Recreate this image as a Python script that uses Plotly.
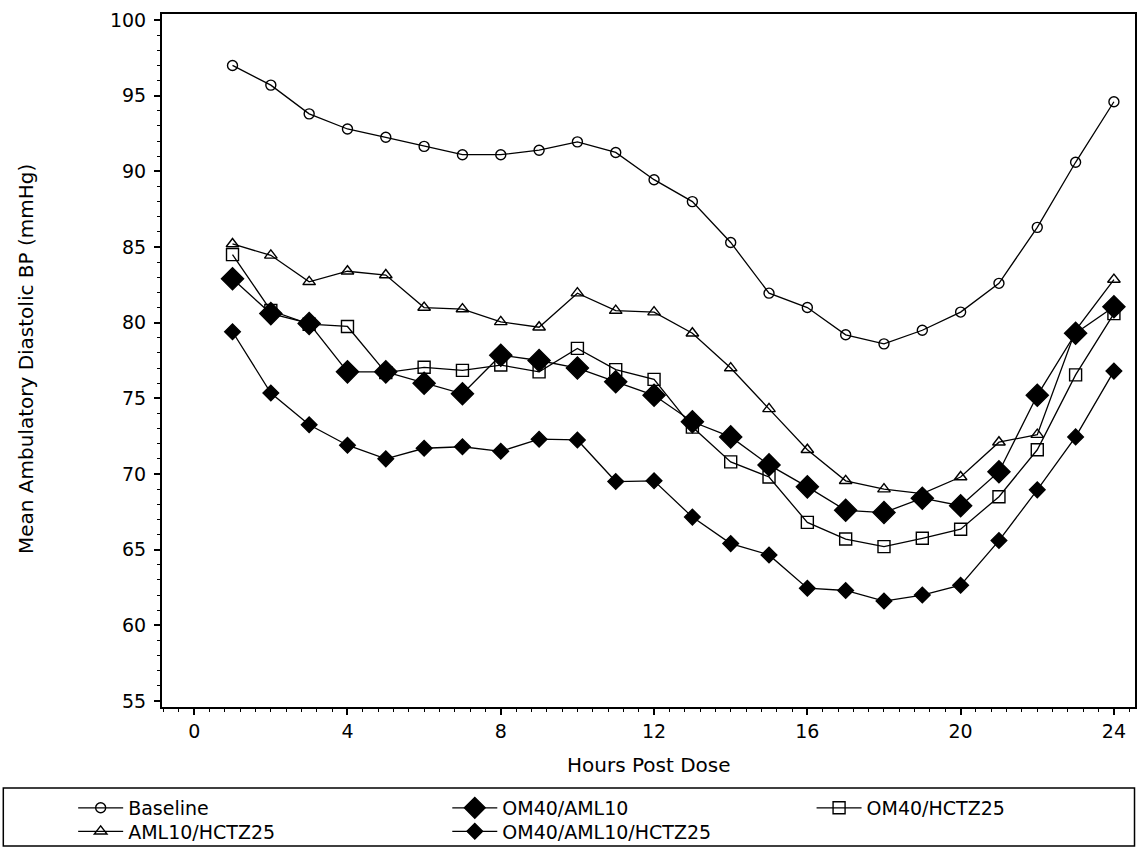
import plotly.graph_objects as go

hours = list(range(1, 25))

baseline = [97.0, 95.7, 93.8, 92.8, 92.25, 91.65, 91.1, 91.1, 91.4, 91.95, 91.25, 89.45,
            88.0, 85.3, 81.95, 81.0, 79.2, 78.6, 79.5, 80.7, 82.6, 86.3, 90.6, 94.6]
om40_aml10 = [82.9, 80.6, 79.95, 76.75, 76.75, 76.0, 75.3, 77.85, 77.5, 77.0, 76.1, 75.2,
              73.45, 72.45, 70.6, 69.15, 67.6, 67.45, 68.4, 67.9, 70.15, 75.2, 79.3, 81.05]
om40_hctz25 = [84.5, 80.8, 79.9, 79.75, 76.7, 77.05, 76.85, 77.2, 76.75, 78.3, 76.9, 76.25,
               73.1, 70.8, 69.8, 66.8, 65.7, 65.2, 65.75, 66.35, 68.5, 71.6, 76.55, 80.6]
aml10_hctz25 = [85.2, 84.45, 82.7, 83.4, 83.15, 81.0, 80.9, 80.05, 79.7, 81.95, 80.8, 80.7,
                79.3, 77.0, 74.3, 71.6, 69.55, 69.0, 68.7, 69.8, 72.1, 72.6, 79.5, 82.85]
om40_aml10_hctz25 = [79.4, 75.35, 73.25, 71.9, 71.0, 71.7, 71.8, 71.5, 72.3, 72.25, 69.5, 69.55,
                     67.15, 65.4, 64.65, 62.45, 62.3, 61.6, 62.0, 62.65, 65.6, 68.95, 72.45, 76.8]

series_names = ["Baseline", "OM40/AML10", "OM40/HCTZ25", "AML10/HCTZ25", "OM40/AML10/HCTZ25"]
series_values = [baseline, om40_aml10, om40_hctz25, aml10_hctz25, om40_aml10_hctz25]
symbols = ["circle-open", "diamond", "square-open", "triangle-up-open", "diamond"]
sizes = [10, 17, 12, 11, 12]
legend_ids = ["legend", "legend2", "legend3", "legend4", "legend5"]

FONT = "DejaVu Sans"

fig = go.Figure()
for name, vals, sym, size, lg in zip(series_names, series_values, symbols, sizes, legend_ids):
    fig.add_trace(go.Scatter(
        x=hours, y=vals, name=name, mode="lines+markers", legend=lg,
        line=dict(color="black", width=1.3),
        marker=dict(symbol=sym, size=size, color="black",
                    line=dict(color="black", width=1.4)),
    ))

axis_common = dict(
    showgrid=False, zeroline=False, showline=True, linecolor="black", linewidth=2,
    mirror=True, ticks="outside", tickcolor="black", ticklen=6, tickwidth=1.5,
    tickfont=dict(family=FONT, size=19, color="black"),
)

fig.update_xaxes(range=[-0.84, 24.55], tick0=0, dtick=4,
                 minor=dict(dtick=0.4, tick0=0, ticks="outside", ticklen=3,
                            tickcolor="black", tickwidth=1.2),
                 **axis_common)
fig.update_yaxes(range=[54.6, 100.4], tick0=55, dtick=5,
                 minor=dict(dtick=1, tick0=55, ticks="outside", ticklen=3,
                            tickcolor="black", tickwidth=1.2),
                 ticklabelstandoff=4,
                 **axis_common)

legend_font = dict(family=FONT, size=19, color="black")
# (x paper, y container) for each single-entry legend
legend_pos = [(-0.0913, 0.0472), (0.2932, 0.0472), (0.6676, 0.0472),
              (-0.0913, 0.0195), (0.2932, 0.0195)]
legend_layouts = {}
for lg, (lx, ly) in zip(legend_ids, legend_pos):
    legend_layouts[lg] = dict(x=lx, y=ly, xanchor="left", yanchor="middle",
                              yref="container", itemwidth=45,
                              font=legend_font, bgcolor="rgba(0,0,0,0)", borderwidth=0)

fig.update_layout(
    width=1138, height=848,
    margin=dict(l=162, r=1, t=14, b=141),
    paper_bgcolor="white", plot_bgcolor="white",
    font=dict(family=FONT, color="black"),
    showlegend=True,
    shapes=[dict(type="rect", xref="paper", yref="paper",
                 x0=-0.1631, x1=0.9995, y0=-0.2006, y1=-0.117,
                 line=dict(color="black", width=1.5), fillcolor="rgba(0,0,0,0)")],
    annotations=[
        dict(text="Hours Post Dose", xref="paper", yref="paper", x=0.5, y=-0.0837,
             xanchor="center", yanchor="middle", showarrow=False,
             font=dict(family=FONT, size=20, color="black")),
        dict(text="Mean Ambulatory Diastolic BP (mmHg)", xref="paper", yref="paper",
             x=-0.1405, y=0.5025, xanchor="center", yanchor="middle", textangle=-90,
             showarrow=False, font=dict(family=FONT, size=20, color="black")),
    ],
    **legend_layouts,
)

fig.write_html("out.html", config={"displayModeBar": False},
               post_script="document.body.style.margin='0';document.body.style.overflow='hidden';")
